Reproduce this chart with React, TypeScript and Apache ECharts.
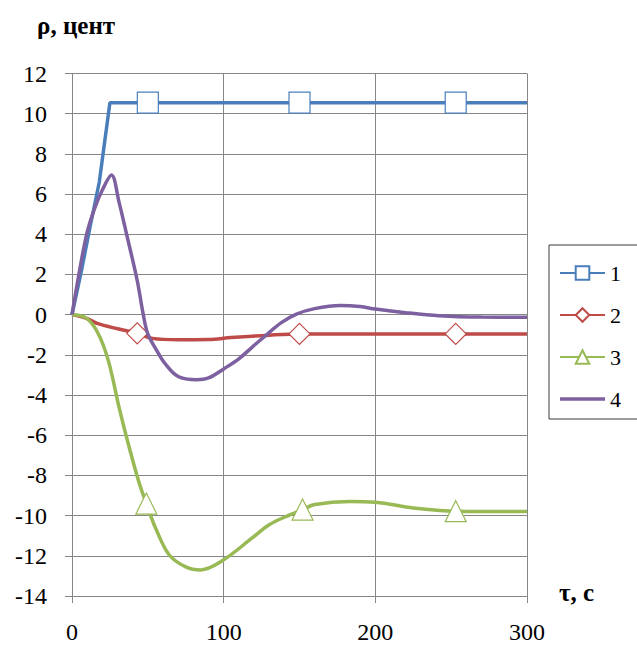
import React, { useEffect, useRef } from "react";
import * as echarts from "echarts";

const seriesNames = ["1", "2", "3", "4"];

const s1Points: [number, number][] = [
  [0, 0], [6, 2.1], [12, 4.4], [18, 6.6], [25, 10.55], [50, 10.55], [100, 10.55],
  [150, 10.55], [200, 10.55], [253, 10.55], [300, 10.55],
];
const s1Markers = [50, 150, 253];

const s2Points: [number, number][] = [
  [0, 0], [10, -0.2], [17, -0.45], [30, -0.7], [43, -0.93], [53, -1.18], [70, -1.25],
  [90, -1.24], [105, -1.14], [130, -1.02], [150, -0.96], [200, -0.96], [253, -0.96], [300, -0.96],
];
const s2Markers = [43, 150, 253];

const s3Points: [number, number][] = [
  [0, 0], [9, -0.15], [17, -0.9], [24, -2.3], [31, -4.6], [37, -6.4], [44, -8.3], [49, -9.4],
  [55, -10.6], [64, -11.95], [75, -12.55], [85, -12.7], [99, -12.25], [119, -11.1], [130, -10.45],
  [144, -9.95], [152, -9.7], [160, -9.45], [183, -9.3], [200, -9.33], [225, -9.62], [253, -9.78], [300, -9.8],
];
const s3Markers = [49, 152, 253];

const s4Points: [number, number][] = [
  [0, 0], [5, 2.2], [10, 4.1], [15, 5.3], [20, 6.2], [26, 6.95], [31, 5.6], [36, 4.0], [43, 1.7],
  [47, 0], [50, -0.96], [56, -1.8], [61, -2.4], [70, -3.08], [82, -3.24], [90, -3.15], [100, -2.7],
  [110, -2.2], [119, -1.6], [126, -1.15], [138, -0.4], [148, 0.03], [160, 0.3], [177, 0.45],
  [190, 0.4], [200, 0.28], [220, 0.1], [242, -0.05], [270, -0.12], [300, -0.13],
];
const s4Markers: number[] = [];

const xTicks = { min: 0, max: 300, interval: 100 };
const yTicks = { min: -14, max: 12, interval: 2 };

const colors = ["#4a7ebb", "#be4b48", "#98b954", "#7d60a0"];
const symbols = ["rect", "diamond", "triangle", "none"];

const SERIF = "'Liberation Serif', 'Times New Roman', serif";

function buildData(points: [number, number][], markers: number[]) {
  return points.map(([x, y]) =>
    markers.includes(x) ? { value: [x, y] } : { value: [x, y], symbol: "none" }
  );
}

export default function App() {
  const ref = useRef<HTMLDivElement>(null);
  useEffect(() => {
    if (!ref.current) return;
    const chart = echarts.init(ref.current, undefined, { renderer: "svg" });
    const all = [
      [s1Points, s1Markers],
      [s2Points, s2Markers],
      [s3Points, s3Markers],
      [s4Points, s4Markers],
    ] as [[number, number][], number[]][];
    const gridColor = "#868686";
    chart.setOption({
      animation: false,
      backgroundColor: "#fff",
      grid: { left: 72, right: 110, top: 73.5, bottom: 52 },
      xAxis: {
        type: "value",
        min: xTicks.min,
        max: xTicks.max,
        interval: xTicks.interval,
        axisLine: { show: true, onZero: false, lineStyle: { color: gridColor, width: 1 } },
        axisTick: { show: true, length: 7, lineStyle: { color: gridColor } },
        axisLabel: { fontSize: 24, fontFamily: SERIF, color: "#000", margin: 24 },
        splitLine: { show: true, lineStyle: { color: gridColor, width: 1 } },
      },
      yAxis: {
        type: "value",
        min: yTicks.min,
        max: yTicks.max,
        interval: yTicks.interval,
        axisLine: { show: true, onZero: false, lineStyle: { color: gridColor, width: 1 } },
        axisTick: { show: true, length: 7, lineStyle: { color: gridColor } },
        axisLabel: { fontSize: 24, fontFamily: SERIF, color: "#000", margin: 25 },
        splitLine: { show: true, lineStyle: { color: gridColor, width: 1 } },
      },
      legend: {
        orient: "vertical",
        left: 549,
        top: 245,
        padding: [17, 30, 9, 10],
        itemWidth: 45,
        itemHeight: 17,
        itemGap: 20,
        borderColor: "#3a3a3a",
        borderWidth: 1,
        backgroundColor: "#fff",
        textStyle: { fontSize: 22, fontFamily: SERIF, color: "#000" },
        data: [
          seriesNames[0],
          seriesNames[1],
          seriesNames[2],
          { name: seriesNames[3], icon: "path://M0,0 L45,0 L45,3.5 L0,3.5 Z" },
        ],
      },
      graphic: [
        {
          type: "text",
          left: 37,
          top: 13,
          style: { text: "ρ, цент", font: `bold 25px ${SERIF}`, fill: "#000" },
        },
        {
          type: "text",
          left: 559,
          top: 580,
          style: { text: "τ, с", font: `bold 25px ${SERIF}`, fill: "#000" },
        },
      ],
      series: all.map(([pts, mk], i) => ({
        name: seriesNames[i],
        type: "line",
        smooth: i === 0 ? false : 0.35,
        symbol: symbols[i],
        symbolSize: 21,
        showSymbol: true,
        lineStyle: { color: colors[i], width: 3.5 },
        itemStyle:
          i === 3
            ? { color: colors[i] }
            : { color: "#fff", borderColor: colors[i], borderWidth: 1.2 },
        emphasis: { disabled: true },
        data: buildData(pts, mk),
        z: 2 + i,
      })),
    });
    return () => chart.dispose();
  }, []);
  return (
    <div
      ref={ref}
      style={{ position: "fixed", left: 0, top: 0, width: 637, height: 648, background: "#fff" }}
    />
  );
}
